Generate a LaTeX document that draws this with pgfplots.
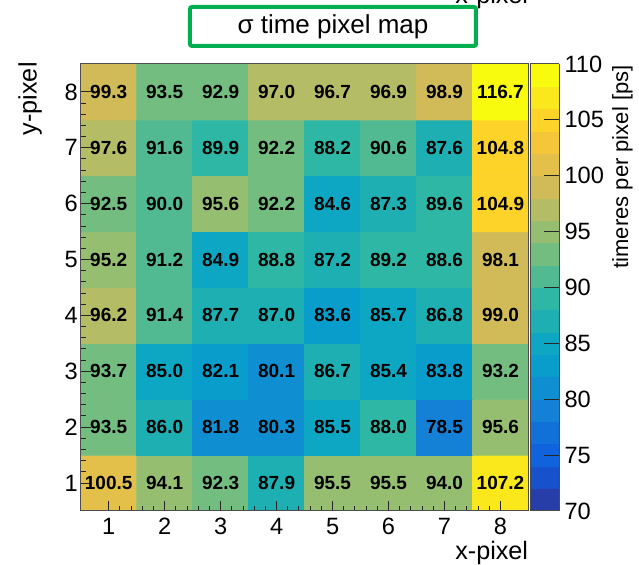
\documentclass[border=0pt]{standalone}
\usepackage{pgfplots}
\pgfplotsset{compat=1.18}
\usepackage{fontspec}
\setmainfont{Liberation Sans}
\definecolor{rootgreen}{RGB}{0,176,80}
\pgfplotsset{
 /pgf/number format/assume math mode=true,
 colormap={rootbird}{
 rgb(0pt)=(0.152,0.240,0.658)
 rgb(1pt)=(0.091,0.319,0.796)
 rgb(2pt)=(0.063,0.388,0.863)
 rgb(3pt)=(0.070,0.443,0.851)
 rgb(4pt)=(0.078,0.502,0.839)
 rgb(5pt)=(0.057,0.558,0.820)
 rgb(6pt)=(0.034,0.614,0.801)
 rgb(7pt)=(0.052,0.656,0.764)
 rgb(8pt)=(0.116,0.687,0.703)
 rgb(9pt)=(0.180,0.718,0.643)
 rgb(10pt)=(0.323,0.731,0.571)
 rgb(11pt)=(0.455,0.742,0.504)
 rgb(12pt)=(0.588,0.746,0.443)
 rgb(13pt)=(0.706,0.739,0.396)
 rgb(14pt)=(0.821,0.734,0.347)
 rgb(15pt)=(0.888,0.754,0.290)
 rgb(16pt)=(0.960,0.776,0.227)
 rgb(17pt)=(0.992,0.829,0.166)
 rgb(18pt)=(0.984,0.909,0.108)
 rgb(19pt)=(0.976,0.983,0.054)
 rgb(20pt)=(0.976,0.983,0.054)
 }
}
\pgfplotstableread{
x y c
1 1 100.5
2 1 94.1
3 1 92.3
4 1 87.9
5 1 95.5
6 1 95.5
7 1 94.0
8 1 107.2
1 2 93.5
2 2 86.0
3 2 81.8
4 2 80.3
5 2 85.5
6 2 88.0
7 2 78.5
8 2 95.6
1 3 93.7
2 3 85.0
3 3 82.1
4 3 80.1
5 3 86.7
6 3 85.4
7 3 83.8
8 3 93.2
1 4 96.2
2 4 91.4
3 4 87.7
4 4 87.0
5 4 83.6
6 4 85.7
7 4 86.8
8 4 99.0
1 5 95.2
2 5 91.2
3 5 84.9
4 5 88.8
5 5 87.2
6 5 89.2
7 5 88.6
8 5 98.1
1 6 92.5
2 6 90.0
3 6 95.6
4 6 92.2
5 6 84.6
6 6 87.3
7 6 89.6
8 6 104.9
1 7 97.6
2 7 91.6
3 7 89.9
4 7 92.2
5 7 88.2
6 7 90.6
7 7 87.6
8 7 104.8
1 8 99.3
2 8 93.5
3 8 92.9
4 8 97.0
5 8 96.7
6 8 96.9
7 8 98.9
8 8 116.7
}\pixdata
\begin{document}
\begin{tikzpicture}
\begin{axis}[
 at={(0pt,0pt)}, anchor=south west,
 scale only axis, width=223.9pt, height=223.5pt,
 xmin=0.5, xmax=8.5, ymin=0.5, ymax=8.5,
 enlargelimits=false,
 xtick={1,2,...,8}, ytick={1,2,...,8},
 minor tick num=4,
 tick align=inside, xtick pos=bottom, ytick pos=left,
 major tick length=5pt, minor tick length=2.5pt,
 tick style={black!85, line width=0.5pt},
 axis line style={black!70, line width=0.5pt},
 axis on top,
 ticklabel style={font=\fontsize{11.8}{13}\selectfont},
 yticklabel style={xshift=2pt},
 colormap name=rootbird,
 colormap access=piecewise constant,
 point meta min=70, point meta max=110,
 colorbar,
 colorbar shift/.style={xshift=0pt},
 colorbar/width=14.5pt,
 colorbar style={
   at={(parent axis.north east)}, anchor=north west, xshift=1pt,
   scale only axis,
   width=14.5pt,
   ytick={70,75,...,110},
   minor tick num=0,
   tick align=inside, major tick length=7.5pt,
   ytick pos=right,
   tick style={black!85, line width=0.5pt},
   axis line style={black!70, line width=0.5pt},
   yticklabel style={font=\fontsize{11.8}{13}\selectfont, xshift=-1pt},
   /pgf/number format/assume math mode=true,
 },
]
\addplot[matrix plot*, mesh/cols=8, mesh/rows=8, point meta=explicit]
  table[x=x, y=y, meta=c] {\pixdata};
\addplot[only marks, mark=none, point meta=explicit symbolic,
  nodes near coords,
  every node near coord/.append style={anchor=center, inner sep=0pt,
    font=\fontsize{9.5}{11}\selectfont\bfseries, text=black}]
  table[x=x, y=y, meta=c] {\pixdata};
\end{axis}
\node[anchor=base east, inner sep=0pt, font=\fontsize{12.6}{14}\selectfont] at (223.9pt,-24.25pt) {x-pixel};
\node[anchor=base east, inner sep=0pt, font=\fontsize{12.6}{14}\selectfont] at (223.9pt,253.5pt) {x-pixel};
\node[rotate=90, anchor=base east, inner sep=0pt, font=\fontsize{12.6}{14}\selectfont] at (-22pt,224.5pt) {y-pixel};
\node[rotate=90, anchor=north east, inner sep=0pt, font=\fontsize{11}{13}\selectfont] at (265.6pt,223pt) {timeres per pixel [ps]};
\node[draw=rootgreen, line width=2pt, fill=white, rounded corners=1pt,
  minimum width=143pt, minimum height=19.5pt, inner sep=0pt,
  font=\fontsize{13}{15}\selectfont] at (126.15pt,242.25pt) {σ time pixel map};
\pgfresetboundingbox
\path[use as bounding box] (-40.35pt,-27pt) rectangle (279.15pt,255.5pt);
\end{tikzpicture}
\end{document}
